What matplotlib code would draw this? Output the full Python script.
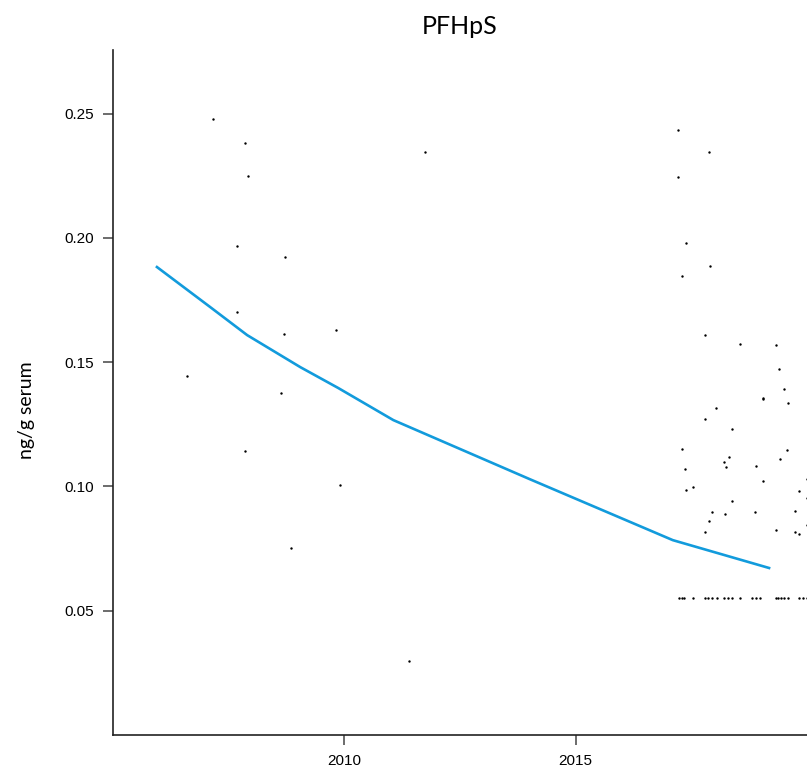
import numpy as np
import matplotlib
matplotlib.use("Agg")
import matplotlib.pyplot as plt

# =========================
# data
# =========================
left_year = [2007.16, 2007.86, 2007.92, 2007.68, 2008.72, 2007.68, 2008.70, 2009.82,
             2006.60, 2008.64, 2007.86, 2009.90, 2008.85, 2011.75, 2011.40]
left_val = [0.2478, 0.2381, 0.2249, 0.1967, 0.1923, 0.1702, 0.1613, 0.1629,
            0.1444, 0.1376, 0.1142, 0.1006, 0.0752, 0.2345, 0.0298]

right_year = [2017.21, 2017.88, 2017.21, 2017.38, 2017.90, 2017.29, 2017.79, 2018.55,
              2019.33, 2019.39, 2019.50, 2019.05, 2019.05, 2019.59, 2018.03, 2017.79,
              2018.38, 2017.29, 2019.57, 2018.31, 2018.20, 2018.25, 2019.42, 2018.90,
              2017.36, 2019.99, 2019.05, 2017.53, 2017.38, 2019.83, 2019.99, 2018.38,
              2017.94, 2018.23, 2018.88, 2019.74, 2017.88, 2017.79, 2019.33, 2019.83,
              2019.74, 2019.99]
right_val = [0.2434, 0.2345, 0.2245, 0.1979, 0.1887, 0.1846, 0.1609, 0.1573,
             0.1569, 0.1472, 0.1392, 0.1356, 0.1350, 0.1336, 0.1315, 0.1271,
             0.1231, 0.1150, 0.1146, 0.1118, 0.1098, 0.1078, 0.1110, 0.1082,
             0.1070, 0.1030, 0.1022, 0.0998, 0.0986, 0.0982, 0.0953, 0.0941,
             0.0897, 0.0889, 0.0897, 0.0901, 0.0861, 0.0817, 0.0825, 0.0809,
             0.0817, 0.0845]

# values below LOQ plotted at a fixed level
loq_year = [2017.24, 2017.30, 2017.34, 2017.54, 2017.79, 2017.85, 2017.94, 2018.05,
            2018.21, 2018.30, 2018.38, 2018.55, 2018.82, 2018.90, 2018.99, 2019.32,
            2019.38, 2019.44, 2019.51, 2019.59, 2019.83, 2019.91, 2019.99]
loq_val = [0.0551] * len(loq_year)

# trend line
trend_year = [2005.95, 2007.10, 2007.90, 2009.05, 2009.87, 2011.06, 2014.00, 2017.10, 2019.18]
trend_val = [0.1883, 0.1722, 0.1609, 0.1480, 0.1396, 0.1267, 0.1030, 0.0784, 0.0672]

# =========================
# plot
# =========================
fig = plt.figure(figsize=(8.07, 7.74), dpi=100)
ax = fig.add_axes([0.140, 0.0504, 0.860, 0.8846])

years = left_year + right_year + loq_year
vals = left_val + right_val + loq_val
ax.scatter(years, vals, s=3, color="black", linewidths=0, zorder=3)
ax.plot(trend_year, trend_val, color="#129bdc", linewidth=1.9, zorder=2)

ax.set_xlim(2005, 2020)
ax.set_ylim(0, 0.2755)
ax.set_xticks([2010, 2015])
ax.set_yticks([0.05, 0.10, 0.15, 0.20, 0.25])
ax.set_yticklabels(["0.05", "0.10", "0.15", "0.20", "0.25"])

for s in ["top", "right"]:
    ax.spines[s].set_visible(False)
for s in ["left", "bottom"]:
    ax.spines[s].set_linewidth(1.2)
    ax.spines[s].set_color("#222222")

ax.tick_params(direction="out", length=7, width=1.1, color="#444444",
               labelsize=11, pad=6.5)
for lab in ax.get_xticklabels() + ax.get_yticklabels():
    lab.set_fontfamily("Liberation Sans")

ax.set_title("PFHpS", fontsize=18, family="Lato", pad=12)
ax.set_ylabel("ng/g serum", fontsize=14, family="Lato")
ax.yaxis.set_label_coords(-0.112, 0.474)

fig.savefig("out.png", dpi=100)
